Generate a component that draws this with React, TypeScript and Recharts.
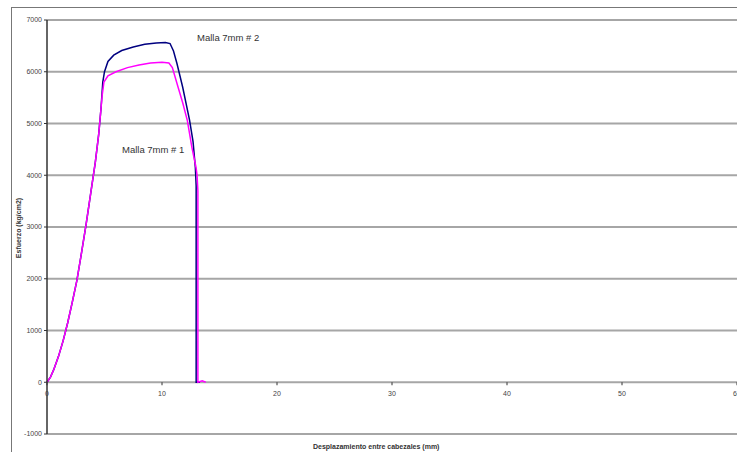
import * as React from 'react';
import { CartesianGrid, Line, LineChart, XAxis, YAxis } from 'recharts';

// desplazamiento (mm) / esfuerzo (kg/cm2)
const mesh2X = [0, 0.3, 0.6, 1.0, 1.4, 1.8, 2.2, 2.6, 3.0, 3.4, 3.8, 4.2, 4.5, 4.7, 4.85, 5.0, 5.3, 5.8, 6.5, 7.5, 8.5, 9.5, 10.3, 10.7, 11.0, 11.3, 11.8, 12.4, 12.7, 12.9, 12.97, 12.97, 13.3];
const mesh2Y = [0, 100, 250, 500, 800, 1150, 1550, 1970, 2500, 3050, 3650, 4250, 4800, 5300, 5800, 6000, 6200, 6320, 6410, 6480, 6530, 6555, 6565, 6545, 6400, 6160, 5700, 5060, 4650, 4150, 3800, 0, 0];

const mesh1X = [0, 0.3, 0.6, 1.0, 1.4, 1.8, 2.2, 2.6, 3.0, 3.4, 3.8, 4.2, 4.5, 4.7, 4.8, 4.95, 5.3, 6.0, 7.0, 8.0, 9.0, 10.0, 10.6, 10.9, 11.4, 11.8, 12.2, 12.6, 12.96, 13.05, 13.12, 13.12, 13.5, 13.8];
const mesh1Y = [0, 100, 250, 500, 800, 1150, 1550, 1970, 2500, 3050, 3650, 4250, 4800, 5300, 5550, 5800, 5920, 6000, 6080, 6130, 6170, 6185, 6170, 6080, 5700, 5400, 5060, 4540, 4150, 4000, 3700, 0, 30, 0];

const xTicks = [0, 10, 20, 30, 40, 50, 60];
const yTicks = [-1000, 0, 1000, 2000, 3000, 4000, 5000, 6000, 7000];

const mesh2 = mesh2X.map((x, i) => ({ x, y: mesh2Y[i] }));
const mesh1 = mesh1X.map((x, i) => ({ x, y: mesh1Y[i] }));

const W = 737;
const H = 452;
const TOP = 20;
const BOTTOM = 18;
const zeroY = TOP + ((H - TOP - BOTTOM) * 7000) / 8000;

function XTick(props: any) {
  const { x, payload } = props;
  return (
    <g>
      <line x1={x} x2={x} y1={zeroY} y2={zeroY + 3} stroke="#333" />
      <text x={x} y={zeroY + 14} textAnchor="middle" fontSize={7} fill="#444">
        {payload.value}
      </text>
    </g>
  );
}

export default function App() {
  return (
    <div style={{ position: 'absolute', left: 0, top: 0, width: W, height: H, overflow: 'hidden', background: '#fff', fontFamily: '"Liberation Sans", Arial, sans-serif' }}>
      <div style={{ position: 'absolute', left: 11, top: 7, width: W, height: H, borderLeft: '1px solid #777', borderTop: '1px solid #777' }} />
      <LineChart width={W} height={H} margin={{ top: TOP, right: 0, left: 11, bottom: 0 }}>
        <CartesianGrid vertical={false} stroke="#a6a6a6" strokeWidth={2} />
        <XAxis
          dataKey="x"
          type="number"
          domain={[0, 60]}
          ticks={xTicks}
          height={BOTTOM}
          axisLine={false}
          tickLine={false}
          tick={<XTick />}
          interval={0}
        />
        <YAxis
          type="number"
          domain={[-1000, 7000]}
          ticks={yTicks}
          width={36}
          interval={0}
          axisLine={{ stroke: '#333', strokeWidth: 1.5 }}
          tickLine={{ stroke: '#333' }}
          tickSize={3}
          tick={{ fontSize: 7, fill: '#444' }}
        />
        <Line data={mesh2} dataKey="y" type="linear" stroke="#000080" strokeWidth={1.5} dot={false} isAnimationActive={false} />
        <Line data={mesh1} dataKey="y" type="linear" stroke="#ff00ff" strokeWidth={1.5} dot={false} isAnimationActive={false} />
      </LineChart>
      <div style={{ position: 'absolute', left: 197, top: 32, fontSize: 9.5, color: '#333', whiteSpace: 'nowrap' }}>Malla 7mm # 2</div>
      <div style={{ position: 'absolute', left: 122, top: 144, fontSize: 9.5, color: '#333', whiteSpace: 'nowrap' }}>Malla 7mm # 1</div>
      <div style={{ position: 'absolute', left: 313, top: 443, fontSize: 7, fontWeight: 'bold', color: '#333', whiteSpace: 'nowrap' }}>Desplazamiento entre cabezales (mm)</div>
      <div style={{ position: 'absolute', left: 18, top: 228, fontSize: 7, fontWeight: 'bold', color: '#333', whiteSpace: 'nowrap', transform: 'translate(-50%, -50%) rotate(-90deg)' }}>Esfuerzo (kg/cm2)</div>
    </div>
  );
}
